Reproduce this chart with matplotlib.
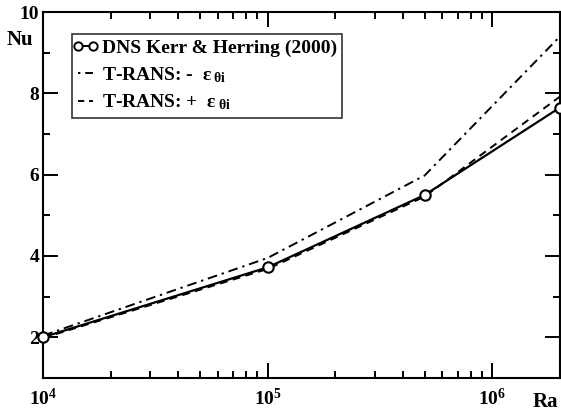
import matplotlib.pyplot as plt
from matplotlib.lines import Line2D
from matplotlib.legend_handler import HandlerLine2D
from matplotlib.ticker import FixedLocator, FixedFormatter, MultipleLocator, LogLocator, NullFormatter

plt.rcParams['font.family'] = ['Liberation Serif', 'DejaVu Serif']
plt.rcParams['font.weight'] = 'bold'
plt.rcParams['mathtext.fontset'] = 'custom'
plt.rcParams['mathtext.rm'] = 'Liberation Serif:bold'
plt.rcParams['mathtext.it'] = 'Liberation Serif:bold'
plt.rcParams['mathtext.bf'] = 'Liberation Serif:bold'

# data
ra = [1e4, 1e5, 5e5, 2e6]
nu_dns = [2.0, 3.72, 5.5, 7.65]
nu_minus = [2.04, 3.95, 5.98, 9.4]
nu_plus = [1.98, 3.68, 5.46, 7.92]

labels = ['DNS Kerr & Herring (2000)',
          r'T-RANS: -  $\varepsilon\,_{\theta i}$',
          r'T-RANS: +  $\varepsilon\,_{\theta i}$']

x_ticks = [1e4, 1e5, 1e6]
x_labels = [r'$\mathbf{10^{4}}$', r'$\mathbf{10^{5}}$', r'$\mathbf{10^{6}}$']
y_ticks = [2, 4, 6, 8, 10]

fig = plt.figure(figsize=(5.61, 4.17), dpi=100)
ax = fig.add_axes([0.077, 0.094, 0.921, 0.877])

ax.plot(ra, nu_dns, color='black', lw=1.6, marker='o', ms=7.5, mfc='white',
        mec='black', mew=1.5, clip_on=False, zorder=3)
ax.plot(ra, nu_minus, color='black', lw=1.4, dashes=(5, 2.5, 1.2, 2.5))
ax.plot(ra, nu_plus, color='black', lw=1.4, dashes=(4, 2.8))

ax.set_xscale('log')
ax.set_xlim(1e4, 2e6)
ax.set_ylim(1, 10)

ax.xaxis.set_major_locator(FixedLocator(x_ticks))
ax.xaxis.set_major_formatter(FixedFormatter(x_labels))
ax.xaxis.set_minor_locator(LogLocator(base=10, subs=range(2, 10)))
ax.xaxis.set_minor_formatter(NullFormatter())
ax.yaxis.set_major_locator(FixedLocator(y_ticks))
ax.yaxis.set_minor_locator(MultipleLocator(1))

ax.tick_params(which='both', direction='in', top=True, right=True, width=1.4,
               labelsize=14)
ax.tick_params(axis='y', pad=3)
ax.tick_params(axis='x', pad=7)
ax.tick_params(which='major', length=11)
ax.tick_params(which='minor', length=5)
for s in ax.spines.values():
    s.set_linewidth(1.5)

fig.text(0.036, 0.905, 'Nu', fontsize=15, ha='center', va='center')
fig.text(0.972, 0.035, 'Ra', fontsize=15, ha='center', va='center')

# short legend keys, like the original: o-o, .- and - -
keys = [
    Line2D([], [], color='black', lw=1.4, marker='o', ms=6, mfc='white', mec='black', mew=1.4),
    Line2D([], [], color='black', lw=1.4, dashes=(1.2, 2.5, 5, 2.5)),
    Line2D([], [], color='black', lw=1.4, dashes=(3.2, 2.5)),
]
leg = ax.legend(keys, labels, loc='upper left', bbox_to_anchor=(0.056, 0.94),
                fontsize=14, frameon=True, fancybox=False, edgecolor='black',
                handlelength=0.8, handletextpad=0.45, borderpad=0.28,
                labelspacing=0.4, borderaxespad=0, numpoints=2,
                handler_map={Line2D: HandlerLine2D(marker_pad=0)})
leg.get_frame().set_linewidth(1.2)

fig.savefig('out.png', dpi=100)
